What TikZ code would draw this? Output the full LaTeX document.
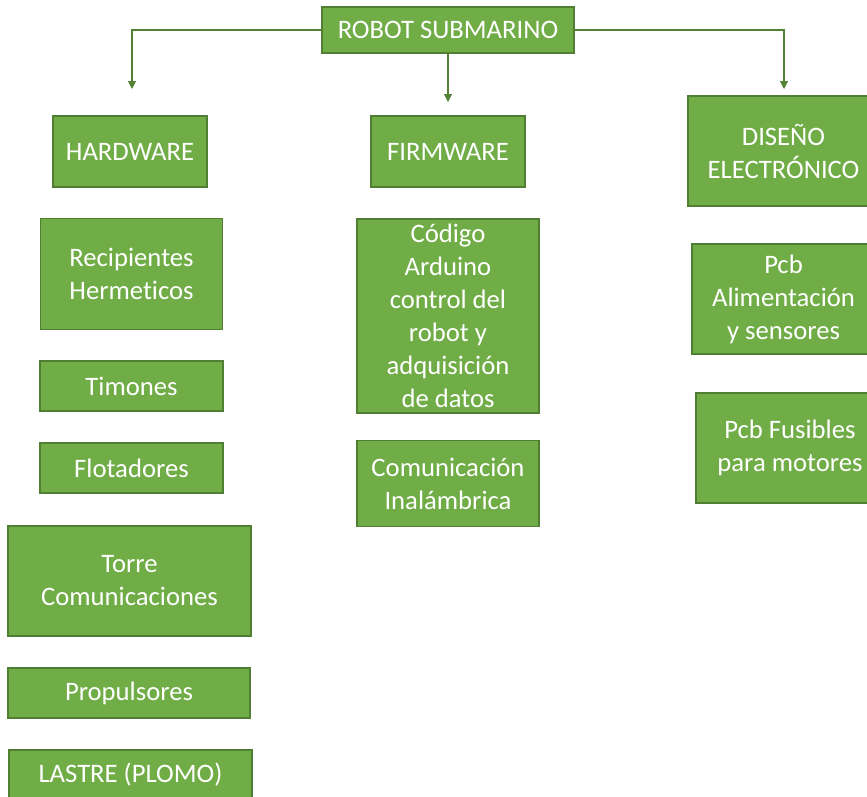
\documentclass[tikz,border=0pt]{standalone}
\usepackage{fontspec}
\setmainfont[Ligatures=NoCommon]{Carlito}
\usepackage{tikz}
\usetikzlibrary{arrows.meta}
\definecolor{boxfill}{HTML}{70AD47}
\definecolor{boxline}{HTML}{507E32}
\definecolor{linkcol}{HTML}{548235}

\begin{document}
\begin{tikzpicture}[x=0.75pt,y=-0.75pt,
box/.style 2 args={draw=boxline, line width=0.8pt, fill=boxfill, text=white,
    align=center, inner sep=0pt, minimum width=#1*0.75pt, minimum height=#2*0.75pt,
    font=\fontsize{20}{24.75}\selectfont},
link/.style={draw=linkcol, line width=0.8pt, -{Triangle[width=6pt,length=6pt]}}]
\useasboundingbox (0,0) rectangle (867,796);
% top
\node[box={252}{46}] (robot) at (448,30) {ROBOT SUBMARINO};
% branches
\node[box={154}{71}] (hw) at (130,151.5) {HARDWARE};
\node[box={154}{71}] (fw) at (448,151.5) {FIRMWARE};
\node[box={191}{110}] (de) at (783.5,151) {DISEÑO\\ELECTRÓNICO};
% hardware
\node[box={182}{111}] (rec) at (131.5,274) {Recipientes\\Hermeticos};
\node[box={183}{50}] (tim) at (131.5,386) {Timones};
\node[box={183}{50}] (flo) at (131.5,468) {Flotadores};
\node[box={243}{110}] (tor) at (129.5,581) {Torre\\Comunicaciones};
\node[box={242}{50}] (pro) at (129,693) {Propulsores};
\node[box={243}{50}] (las) at (130.5,775) {LASTRE (PLOMO)};
% firmware
\node[box={182}{194}] (cod) at (448,316) {Código\\Arduino\\control del\\robot y\\adquisición\\de datos};
\node[box={182}{86}] (com) at (448,483.5) {Comunicación\\Inalámbrica};
% electronica
\node[box={183}{110}] (pcba) at (783.5,299) {Pcb\\Alimentación\\y sensores};
\node[box={188}{110}] (pcbf) at (790,448) {Pcb Fusibles\\para motores};
% arrows
\coordinate (hwtip) at (132,89);
\coordinate (fwtip) at (448,102);
\coordinate (detip) at (784,89);
\draw[link] (robot.west) -| (hwtip);
\draw[link] (robot.south) -- (fwtip);
\draw[link] (robot.east) -| (detip);
\end{tikzpicture}
\end{document}
